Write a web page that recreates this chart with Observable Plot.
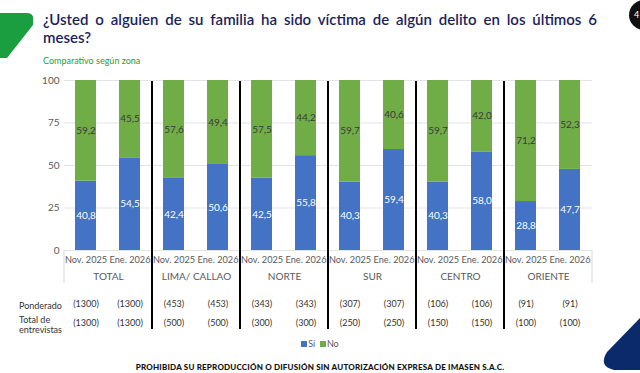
<!DOCTYPE html>
<html>
<head>
<meta charset="utf-8">
<script src="https://cdn.jsdelivr.net/npm/d3@7"></script>
<script src="https://cdn.jsdelivr.net/npm/@observablehq/plot@0.6"></script>
<style>
  html, body { margin: 0; padding: 0; background: #fff; }
  #page { position: relative; width: 640px; height: 373px; overflow: hidden; font-family: Lato, "Open Sans", sans-serif; }
  #deco { position: absolute; left: 0; top: 0; }
  #title { position: absolute; left: 43px; top: 10px; width: 554px; font-size: 15px; font-weight: 600; color: #1c1f5c; line-height: 18px; }
  #title .l1 { text-align: justify; text-align-last: justify; white-space: nowrap; }
  #subtitle { position: absolute; left: 43px; top: 55px; font-size: 9px; color: #1a9e3f; }
  #chart { position: absolute; left: 0; top: 70px; }
  .rowlab { position: absolute; left: 19px; font-size: 9px; color: #333; line-height: 10px; }
  #legend { position: absolute; top: 338px; left: 0; width: 640px; text-align: center; font-size: 9px; color: #595959; }
  #legend span.sw { display: inline-block; width: 6px; height: 6px; margin-right: 1px; vertical-align: 0px; }
  #footer { position: absolute; top: 363px; left: 0; width: 640px; text-align: center; font-size: 8px; line-height: 9px; font-weight: 900; letter-spacing: 0.2px; color: #111; }
</style>
</head>
<body>
<div id="page">
  <svg id="deco" width="640" height="373">
    <path d="M0,13 H27 Q34,13 33,20 V25 L7,58 H0 Z" fill="#1a9e3f"/>
    <circle cx="644" cy="15" r="15" fill="#111"/>
    <text x="634" y="18" font-size="9" fill="#fff" font-family="Lato">4</text>
    <path d="M640,318 L607,352 Q598,366 614,370 H640 Z" fill="#0b2a6c"/>
  </svg>
  <div id="title"><div class="l1">¿Usted o alguien de su familia ha sido víctima de algún delito en los últimos 6</div><div>meses?</div></div>
  <div id="subtitle">Comparativo según zona</div>
  <div id="chart"></div>
  <div class="rowlab" style="top:301px">Ponderado</div>
  <div class="rowlab" style="top:315px">Total de<br>entrevistas</div>
  <div id="legend"><span class="sw" style="background:#4472C4"></span>Sí &nbsp;<span class="sw" style="background:#70AD47"></span>No</div>
  <div id="footer">PROHIBIDA SU REPRODUCCIÓN O DIFUSIÓN SIN AUTORIZACIÓN EXPRESA DE IMASEN S.A.C.</div>
</div>
<script>
const zones = ["TOTAL", "LIMA/ CALLAO", "NORTE", "SUR", "CENTRO", "ORIENTE"];
const periods = ["Nov. 2025", "Ene. 2026"];
const answers = ["Sí", "No"];
const si = [40.8, 54.5, 42.4, 50.6, 42.5, 55.8, 40.3, 59.4, 40.3, 58.0, 28.8, 47.7];
const no = [59.2, 45.5, 57.6, 49.4, 57.5, 44.2, 59.7, 40.6, 59.7, 42.0, 71.2, 52.3];
const ponderado = [1300, 1300, 453, 453, 343, 343, 307, 307, 106, 106, 91, 91];
const entrevistas = [1300, 1300, 500, 500, 300, 300, 250, 250, 150, 150, 100, 100];
const yTicks = [0, 25, 50, 75, 100];
const colors = ["#4472C4", "#70AD47"];

const data = [];
[si, no].forEach((vals, a) => {
  zones.forEach((z, i) => periods.forEach((p, j) => {
    data.push({zone: z, period: p, answer: answers[a], value: vals[i * 2 + j]});
  }));
});
const table = [];
zones.forEach((z, i) => periods.forEach((p, j) => {
  table.push({zone: z, period: p, pond: ponderado[i * 2 + j], ent: entrevistas[i * 2 + j]});
}));
const fmt = v => v.toFixed(1).replace(".", ",");
const stackOpts = extra => Plot.stackY({fx: "zone", x: "period", y: "value", ...extra});

const plot = Plot.plot({
  width: 640,
  height: 265,
  marginTop: 10,
  marginBottom: 85,
  marginLeft: 63,
  marginRight: 47,
  style: {fontFamily: "Lato, 'Open Sans', sans-serif", fontSize: "10px", color: "#595959", background: "transparent"},
  fx: {domain: zones, padding: 0, label: null},
  x: {domain: periods, paddingInner: 0.52, paddingOuter: 0.26, label: null},
  y: {domain: [0, 100], label: null},
  color: {domain: answers, range: colors},
  marks: [
    Plot.gridY(yTicks, {stroke: "#e3e3e3", strokeOpacity: 1}),
    Plot.axisY(yTicks, {tickSize: 0, tickPadding: 5, label: null, fill: "#595959"}),
    Plot.axisX({tickSize: 0, tickPadding: 6, label: null, fill: "#595959", fontSize: 9.2}),
    Plot.axisFx({anchor: "bottom", tickSize: 0, tickPadding: 22, label: null, fill: "#595959"}),
    Plot.barY(data, stackOpts({fill: "answer"})),
    Plot.text(data, stackOpts({text: d => d.answer === "Sí" ? fmt(d.value) : "", fill: "#ffffff", fontSize: 10})),
    Plot.text(data, stackOpts({text: d => d.answer === "No" ? fmt(d.value) : "", fill: "#3a3a3a", fontSize: 10})),
    Plot.text(table, {fx: "zone", x: "period", frameAnchor: "bottom", dy: 56, text: d => `(${d.pond})`, fill: "#333", fontSize: 9}),
    Plot.text(table, {fx: "zone", x: "period", frameAnchor: "bottom", dy: 75, text: d => `(${d.ent})`, fill: "#333", fontSize: 9})
  ]
});
document.getElementById("chart").appendChild(plot);

// group separators positioned from the fx scale
const fxs = plot.scale("fx");
const svgSel = d3.select(plot);
const sepTop = 10, plotBottom = 180;
const edges = zones.map(z => fxs.apply(z)).concat([fxs.apply(zones[zones.length - 1]) + fxs.bandwidth]);
edges.forEach((x, i) => {
  svgSel.append("line").attr("x1", x).attr("x2", x).attr("y1", plotBottom).attr("y2", plotBottom + 33)
    .attr("stroke", "#d9d9d9").attr("stroke-width", 1);
  if (i > 0 && i < edges.length - 1) {
    svgSel.append("line").attr("x1", x).attr("x2", x).attr("y1", sepTop + 1).attr("y2", 259)
      .attr("stroke", "#000").attr("stroke-width", 2);
  }
});
</script>
</body>
</html>
